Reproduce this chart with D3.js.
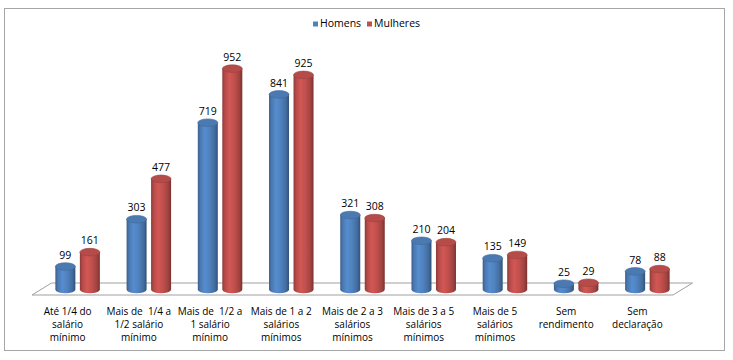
<!DOCTYPE html>
<html><head><meta charset="utf-8">
<script src="https://cdn.jsdelivr.net/npm/d3@7"></script>
<style>
body{margin:0;background:#fff;}
svg{display:block;font-family:"Open Sans","Liberation Sans",sans-serif;}
text{white-space:pre;}
</style></head>
<body>
<svg id="c" width="733" height="360"></svg>
<script>
const categories = [
  ["Até 1/4 do","salário","mínimo"],
  ["Mais de  1/4 a","1/2 salário","mínimo"],
  ["Mais de  1/2 a","1 salário","mínimo"],
  ["Mais de 1 a 2","salários","mínimos"],
  ["Mais de 2 a 3","salários","mínimos"],
  ["Mais de 3 a 5","salários","mínimos"],
  ["Mais de 5","salários","mínimos"],
  ["Sem","rendimento"],
  ["Sem","declaração"]
];
const seriesNames = ["Homens","Mulheres"];
const homens   = [99, 303, 719, 841, 321, 210, 135, 25, 78];
const mulheres = [161, 477, 952, 925, 308, 204, 149, 29, 88];
const colors = ["#4F81BD","#C0504D"];

const svg = d3.select("#c");
const defs = svg.append("defs");

// chart border
svg.append("rect").attr("x",4.5).attr("y",8.5).attr("width",720).attr("height",342)
  .attr("fill","#fff").attr("stroke","#a6a6a6").attr("stroke-width",1);

// gradients for cylinders
function grad(id, base){
  const c = d3.color(base);
  const g = defs.append("linearGradient").attr("id",id).attr("x1","0").attr("x2","1").attr("y1","0").attr("y2","0");
  const stops = [[0,c.darker(0.9)],[0.12,c.darker(0.2)],[0.35,c.brighter(0.25)],[0.6,c],[0.85,c.darker(0.5)],[1,c.darker(1.3)]];
  stops.forEach(s=>g.append("stop").attr("offset",s[0]).attr("stop-color",s[1].formatHex()));
}
grad("g0",colors[0]); grad("g1",colors[1]);

// floor geometry
const frontY = 295, backY = 283, frontL = 32, frontR = 673, depthDX = 19.5;
const x = d3.scaleBand().domain(d3.range(categories.length)).range([frontL, frontR]);
const y = d3.scaleLinear().domain([0,1000]).range([289.5, 57.5]);
const baseY = y(0);
const shift = depthDX/2;

svg.append("path")
  .attr("d",`M${frontL},${frontY}L${frontL+depthDX},${backY}L${frontR+depthDX},${backY}L${frontR},${frontY}Z`)
  .attr("fill","#fff").attr("stroke","#a0a0a0").attr("stroke-width",1);

const rx = 10, ry = 3.8;
const offsets = [-12, 12.5];
const data = [homens, mulheres];

data.forEach((vals, si)=>{
  vals.forEach((v, i)=>{
    const cx = x(i) + x.bandwidth()/2 + shift + offsets[si];
    const top = y(v);
    const g = svg.append("g");
    g.append("path")
      .attr("d",`M${cx-rx},${top} L${cx-rx},${baseY} A${rx},${ry} 0 0 0 ${cx+rx},${baseY} L${cx+rx},${top} Z`)
      .attr("fill",`url(#g${si})`);
    const c = d3.color(colors[si]);
    g.append("ellipse").attr("cx",cx).attr("cy",top).attr("rx",rx).attr("ry",ry)
      .attr("fill",c.darker(0.15).formatHex()).attr("stroke",c.darker(0.6).formatHex()).attr("stroke-width",0.6);
    svg.append("text").attr("x",cx).attr("y",top-ry-4).attr("text-anchor","middle")
      .attr("font-size",10.5).attr("fill","#000").text(v);
  });
});

// category labels
categories.forEach((lines,i)=>{
  const t = svg.append("text").attr("text-anchor","middle").attr("font-size",10).attr("fill","#000");
  lines.forEach((l,k)=>{
    t.append("tspan").attr("x",x(i)+x.bandwidth()/2).attr("y",315+k*13).text(l);
  });
});

// legend
const lg = svg.append("g");
const legX = [313, 367];
seriesNames.forEach((n,i)=>{
  lg.append("rect").attr("x",legX[i]).attr("y",21.5).attr("width",5).attr("height",5).attr("fill",colors[i]);
  lg.append("text").attr("x",legX[i]+7).attr("y",27).attr("font-size",10.5).attr("fill","#000").text(n);
});
</script>
</body></html>
